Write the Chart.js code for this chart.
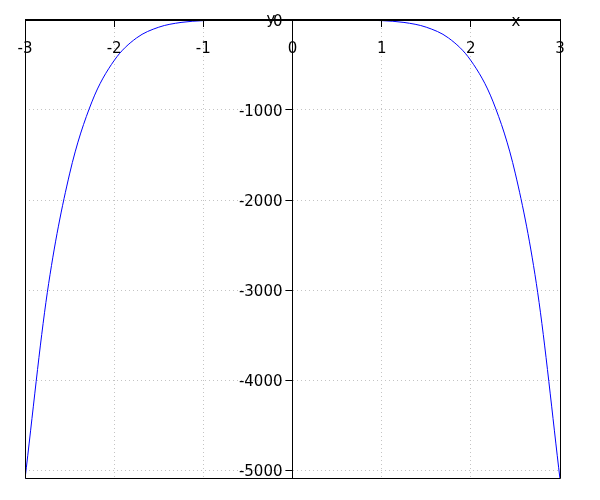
<!DOCTYPE html>
<html>
<head>
<meta charset="utf-8">
<script src="https://cdn.jsdelivr.net/npm/chart.js@4/dist/chart.umd.min.js"></script>
<style>
  body { margin: 0; background: #fff; }
  canvas { display: block; }
</style>
</head>
<body>
<canvas id="plot" width="600" height="500"></canvas>
<script>
// values
const xValues = [-3, -2.75, -2.5, -2.25, -2, -1.75, -1.5, -1.25, -1, -0.75, -0.5, -0.25, 0,
                 0.25, 0.5, 0.75, 1, 1.25, 1.5, 1.75, 2, 2.25, 2.5, 2.75, 3];
const yValues = [-5100, -3030, -1710, -910, -450, -200, -80, -27, -7, -1, 0, 0, 0,
                 0, 0, -1, -7, -27, -80, -200, -450, -910, -1710, -3030, -5100];

const xTicks = [-3, -2, -1, 0, 1, 2, 3];
const yTicks = [0, -1000, -2000, -3000, -4000, -5000];
const xMin = -3, xMax = 3;
const yMin = -5100, yMax = 0;

const FONT = '15px "DejaVu Sans"';

// matplotlib-like frame, centred spine, ticks and labels
const axesOverlay = {
  id: 'axesOverlay',
  afterDraw(chart) {
    const ctx = chart.ctx;
    const area = chart.chartArea;
    const xs = chart.scales.x, ys = chart.scales.y;
    const x0 = Math.floor(xs.getPixelForValue(0)) + 0.5;

    ctx.save();
    ctx.strokeStyle = '#000';
    ctx.lineWidth = 1;
    ctx.beginPath();
    ctx.moveTo(area.left + 0.5, area.top);
    ctx.lineTo(area.left + 0.5, area.bottom - 0.5);
    ctx.lineTo(area.right + 0.5, area.bottom - 0.5);
    ctx.lineTo(area.right + 0.5, area.top);
    ctx.moveTo(x0, area.top);
    ctx.lineTo(x0, area.bottom);
    ctx.stroke();

    // top edge = x axis at y=0
    ctx.lineWidth = 2;
    ctx.beginPath();
    ctx.moveTo(area.left, area.top);
    ctx.lineTo(area.right + 1, area.top);
    ctx.stroke();

    // tick marks
    ctx.lineWidth = 1;
    ctx.beginPath();
    xTicks.forEach(v => {
      const px = Math.floor(xs.getPixelForValue(v)) + 0.5;
      ctx.moveTo(px, area.top);
      ctx.lineTo(px, area.top + 7);
    });
    yTicks.forEach(v => {
      const py = Math.floor(ys.getPixelForValue(v)) + 0.5;
      ctx.moveTo(x0, py);
      ctx.lineTo(x0 - 7, py);
    });
    ctx.stroke();

    // tick labels
    ctx.fillStyle = '#000';
    ctx.font = FONT;
    ctx.textAlign = 'center';
    ctx.textBaseline = 'alphabetic';
    xTicks.forEach(v => {
      ctx.fillText(String(v), xs.getPixelForValue(v), area.top + 33);
    });
    ctx.textAlign = 'right';
    yTicks.forEach(v => {
      ctx.fillText(String(v), x0 - 10, ys.getPixelForValue(v) + 6);
    });

    // axis names
    ctx.textAlign = 'center';
    ctx.fillText('y', 271, 24);
    ctx.fillText('x', 516, 26);
    ctx.restore();
  }
};

const points = xValues.map((x, i) => ({ x: x, y: yValues[i] }));

new Chart(document.getElementById('plot'), {
  type: 'scatter',
  data: {
    datasets: [{
      data: points,
      showLine: true,
      borderColor: '#0000ff',
      borderWidth: 1,
      pointRadius: 0,
      cubicInterpolationMode: 'monotone',
      fill: false
    }]
  },
  options: {
    responsive: false,
    animation: false,
    events: [],
    layout: { padding: { left: 25, right: 40, top: 20, bottom: 21 } },
    plugins: { legend: { display: false }, tooltip: { enabled: false } },
    scales: {
      x: {
        type: 'linear',
        min: xMin,
        max: xMax,
        afterBuildTicks: s => { s.ticks = xTicks.map(v => ({ value: v })); },
        afterFit: s => { s.height = 0; },
        ticks: { display: false },
        grid: { color: '#c4c4c4', drawTicks: false },
        border: { display: false, dash: [1, 3] }
      },
      y: {
        type: 'linear',
        min: yMin,
        max: yMax,
        afterBuildTicks: s => { s.ticks = yTicks.map(v => ({ value: v })); },
        afterFit: s => { s.width = 0; },
        ticks: { display: false },
        grid: { color: '#c4c4c4', drawTicks: false },
        border: { display: false, dash: [1, 3] }
      }
    }
  },
  plugins: [axesOverlay]
});
</script>
</body>
</html>
